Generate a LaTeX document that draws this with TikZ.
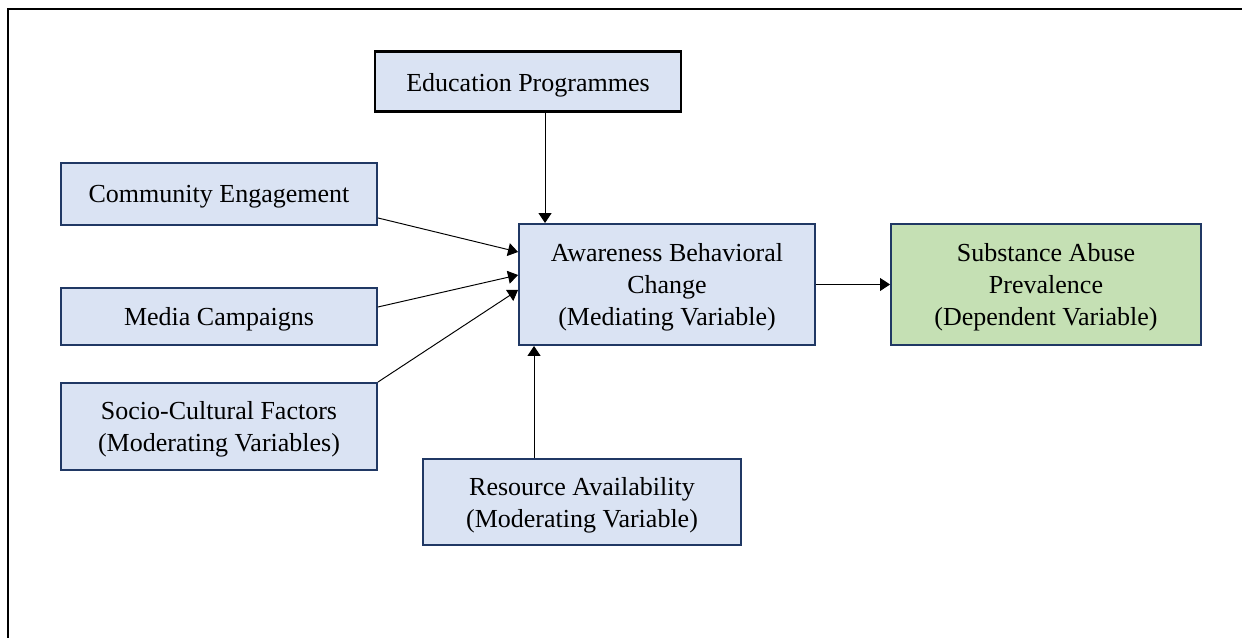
\documentclass[tikz,border=0pt]{standalone}
\usepackage{fontspec}
\setmainfont{Liberation Serif}
\usepackage{tikz}
\usetikzlibrary{calc,shapes,positioning}
\usetikzlibrary{arrows.meta}
\tikzset{>={Triangle[width=0.26cm,length=0.2cm]}}
\definecolor{boxblue}{HTML}{DAE3F3}
\definecolor{boxgreen}{HTML}{C5E0B4}
\definecolor{boxline}{HTML}{203864}

\begin{document}
\begin{tikzpicture}
    \tikzstyle{vnode} = [draw=boxline, line width=1.1pt, fill=boxblue, rectangle, align=center, inner sep=0pt, text depth=0pt, font=\fontsize{14.8}{18.2}\selectfont]
    \tikzstyle{dnode} = [vnode, fill=boxgreen]
    \tikzstyle{link} = [->, line width=0.55pt]
    \useasboundingbox (0,0) rectangle (24.84,12.76);
    \draw[line width=1.1pt] (24.84,12.58) -- (0.16,12.58) -- (0.16,0);

    \node[vnode, draw=black, line width=1.7pt, minimum width=6.12cm, minimum height=1.2cm] (edu) at (10.56,11.12) {Education Programmes};
    \node[vnode, minimum width=6.32cm, minimum height=1.24cm] (ce) at (4.38,8.88) {Community Engagement};
    \node[vnode, minimum width=6.32cm, minimum height=1.14cm] (mc) at (4.38,6.43) {Media Campaigns};
    \node[vnode, minimum width=6.32cm, minimum height=1.74cm] (sc) at (4.38,4.23) {Socio-Cultural Factors\\(Moderating Variables)};
    \node[vnode, minimum width=5.92cm, minimum height=2.42cm] (aw) at (13.34,7.07) {Awareness Behavioral\\Change\\(Mediating Variable)};
    \node[dnode, minimum width=6.2cm, minimum height=2.42cm] (sub) at (20.92,7.07) {Substance Abuse\\Prevalence\\(Dependent Variable)};
    \node[vnode, minimum width=6.36cm, minimum height=1.72cm] (res) at (11.64,2.72) {Resource Availability\\(Moderating Variable)};

    \coordinate (awtop) at ([xshift=0.54cm]aw.north west);
    \coordinate (awbot) at ([xshift=0.32cm]aw.south west);

    \draw[link] (edu.south -| awtop) to (awtop);
    \draw[link] ([yshift=0.16cm]ce.south east) to ([yshift=0.65cm]aw.west);
    \draw[link] ([yshift=0.19cm]mc.east) to ([yshift=0.19cm]aw.west);
    \draw[link] (sc.north east) to ([yshift=-0.11cm]aw.west);
    \draw[link] (res.north -| awbot) to (awbot);
    \draw[link] (aw.east) to (sub.west);

  \end{tikzpicture}
\end{document}
